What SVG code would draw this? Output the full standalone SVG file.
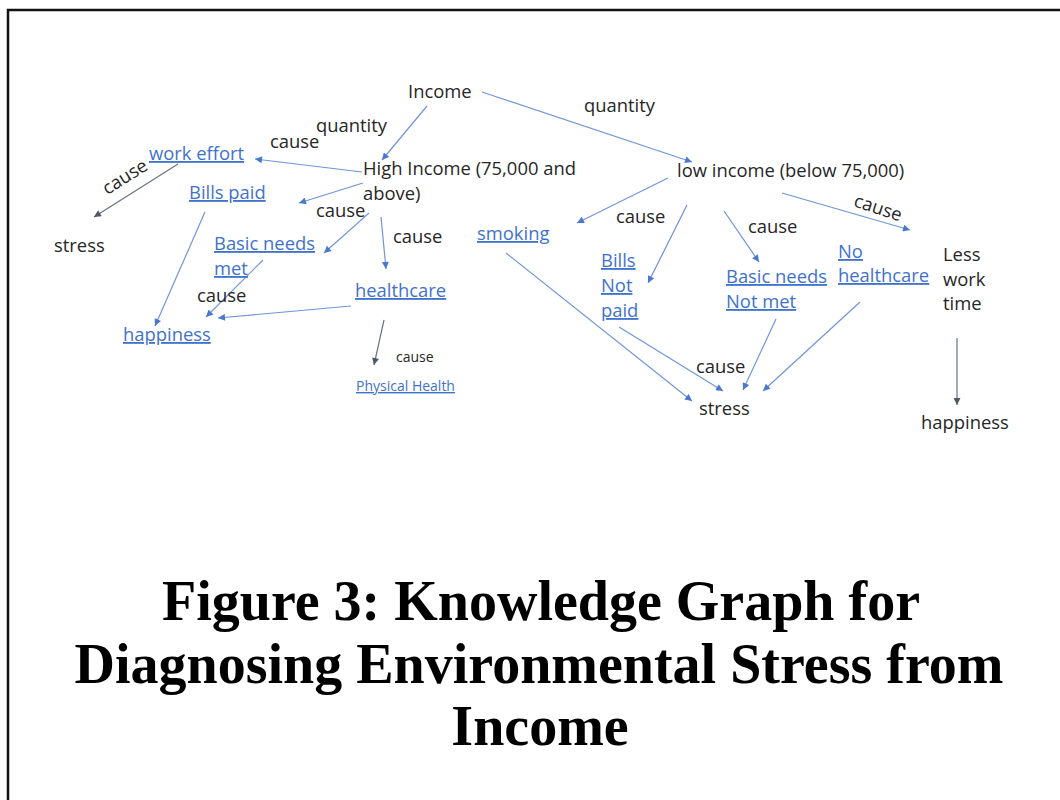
<svg xmlns="http://www.w3.org/2000/svg" width="1060" height="800" viewBox="0 0 1060 800">
<style>
.t{font-family:"Open Sans","Liberation Sans",sans-serif;font-size:18.4px;fill:#262626}
.l{font-family:"Open Sans","Liberation Sans",sans-serif;font-size:18.4px;fill:#3f72cc;text-decoration:underline}
.s{font-size:14px}
.e{fill:none;stroke:#6f95dc;stroke-width:1.2;marker-end:url(#ab)}
.g{fill:none;stroke:#6a7382;stroke-width:1.2;marker-end:url(#ag)}
.title{font-family:"Liberation Serif","Times New Roman",serif;font-weight:bold;font-size:56px;fill:#000;text-anchor:middle}
</style>
<defs>
<marker id="ab" viewBox="0 0 10 10" refX="10" refY="5" markerWidth="8" markerHeight="7" markerUnits="userSpaceOnUse" orient="auto"><path d="M0,0L10,5L0,10z" fill="#4a78d0"/></marker>
<marker id="ag" viewBox="0 0 10 10" refX="10" refY="5" markerWidth="8" markerHeight="7" markerUnits="userSpaceOnUse" orient="auto"><path d="M0,0L10,5L0,10z" fill="#4d5766"/></marker>
</defs>
<rect width="1060" height="800" fill="#fff"/>
<path d="M8,800V10H1060" fill="none" stroke="#111" stroke-width="2.5"/>

<g id="connectors">
<path class="e" d="M427,106L382,160"/>
<path class="e" d="M482,92L692,162"/>
<path class="e" d="M362,172L255,159"/>
<path class="e" d="M363,183L299,203"/>
<path class="e" d="M369,213L324,253"/>
<path class="e" d="M381,217L386,269"/>
<path class="g" d="M178,164L94,217"/>
<path class="e" d="M205,212L155,326"/>
<path class="e" d="M263,260L206,317"/>
<path class="e" d="M351,306L218,318"/>
<path class="g" d="M384,320L374,365"/>
<path class="e" d="M668,178L577,223"/>
<path class="e" d="M687,205L648,283"/>
<path class="e" d="M724,211L759,262"/>
<path class="e" d="M782,193L910,230"/>
<path class="e" d="M506,253L692,401"/>
<path class="e" d="M619,327L723,391"/>
<path class="e" d="M776,319L743,390"/>
<path class="e" d="M860,302L763,391"/>
<path class="g" d="M957,338L957,405"/>
<text class="t" x="584" y="112">quantity</text>
<text class="t" x="316" y="132">quantity</text>
<text class="t" x="270" y="148">cause</text>
<text class="t" x="125" y="183" text-anchor="middle" transform="rotate(-32 125 177)">cause</text>
<text class="t" x="316" y="217">cause</text>
<text class="t" x="393" y="243">cause</text>
<text class="t" x="197" y="302">cause</text>
<text class="t s" x="396" y="362">cause</text>
<text class="t" x="616" y="223">cause</text>
<text class="t" x="748" y="233">cause</text>
<text class="t" x="878" y="214" text-anchor="middle" transform="rotate(18 878 208)">cause</text>
<text class="t" x="696" y="373">cause</text>
</g>

<g id="income"><text class="t" x="408" y="98">Income</text></g>
<g id="high-income"><text class="t" x="363" y="175">High Income (75,000 and<tspan x="363" dy="25">above)</tspan></text></g>
<g id="low-income"><text class="t" x="677" y="177">low income (below 75,000)</text></g>
<g id="work-effort"><text class="l" x="149" y="160">work effort</text></g>
<g id="stress-left"><text class="t" x="54" y="252">stress</text></g>
<g id="bills-paid"><text class="l" x="189" y="199">Bills paid</text></g>
<g id="basic-needs-met"><text class="l" x="214" y="250">Basic needs<tspan x="214" dy="25">met</tspan></text></g>
<g id="healthcare"><text class="l" x="355" y="297">healthcare</text></g>
<g id="happiness-left"><text class="l" x="123" y="341">happiness</text></g>
<g id="physical-health"><text class="l s" x="356" y="391">Physical Health</text></g>
<g id="smoking"><text class="l" x="477" y="240">smoking</text></g>
<g id="bills-not-paid"><text class="l" x="601" y="267">Bills<tspan x="601" dy="25">Not</tspan><tspan x="601" dy="25">paid</tspan></text></g>
<g id="basic-needs-not-met"><text class="l" x="726" y="283">Basic needs<tspan x="726" dy="25">Not met</tspan></text></g>
<g id="no-healthcare"><text class="l" x="838" y="258">No<tspan x="838" dy="24">healthcare</tspan></text></g>
<g id="less-work-time"><text class="t" x="943" y="261">Less<tspan x="943" dy="25">work</tspan><tspan x="943" dy="24">time</tspan></text></g>
<g id="stress-bottom"><text class="t" x="699" y="415">stress</text></g>
<g id="happiness-right"><text class="t" x="921" y="429">happiness</text></g>

<g id="caption">
<text class="title" x="541" y="620">Figure 3: Knowledge Graph for</text>
<text class="title" x="539" y="683">Diagnosing Environmental Stress from</text>
<text class="title" x="540" y="745">Income</text>
</g>
</svg>
